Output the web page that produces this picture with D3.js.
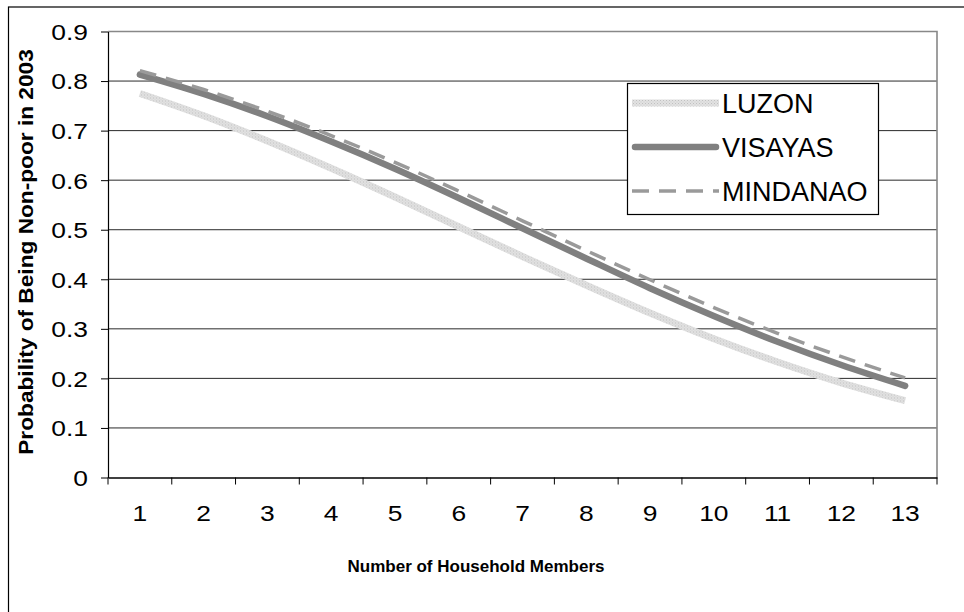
<!DOCTYPE html>
<html>
<head>
<meta charset="utf-8">
<script src="https://cdn.jsdelivr.net/npm/d3@7"></script>
<style>
  body { margin: 0; background: #fff; }
  svg text { font-family: "Liberation Sans", Arial, sans-serif; fill: #000; }
</style>
</head>
<body>
<svg width="964" height="612"></svg>
<script>
// household size categories
var members = ["1", "2", "3", "4", "5", "6", "7", "8", "9", "10", "11", "12", "13"];

// probability of being non-poor
var luzon    = [0.775, 0.730, 0.679, 0.624, 0.566, 0.506, 0.446, 0.388, 0.332, 0.280, 0.233, 0.191, 0.155];
var visayas  = [0.813, 0.774, 0.729, 0.678, 0.623, 0.564, 0.503, 0.442, 0.382, 0.326, 0.274, 0.227, 0.185];
var mindanao = [0.821, 0.783, 0.739, 0.690, 0.636, 0.578, 0.518, 0.458, 0.399, 0.343, 0.291, 0.244, 0.201];

var yTicks = [0, 0.1, 0.2, 0.3, 0.4, 0.5, 0.6, 0.7, 0.8, 0.9];
var yTickLabels = ["0", "0.1", "0.2", "0.3", "0.4", "0.5", "0.6", "0.7", "0.8", "0.9"];

var seriesNames = ["LUZON", "VISAYAS", "MINDANAO"];

var svg = d3.select("svg"),
    margin = {top: 31.5, right: 27, bottom: 134.5, left: 108},
    width = +svg.attr("width") - margin.left - margin.right,
    height = +svg.attr("height") - margin.top - margin.bottom;

var x = d3.scaleBand().domain(members).range([0, width]).paddingInner(0).paddingOuter(0),
    y = d3.scaleLinear().domain([0, 0.9]).range([height, 0]);

// texture for the light luzon line
var defs = svg.append("defs");
var pat = defs.append("pattern")
    .attr("id", "luzonTex")
    .attr("patternUnits", "userSpaceOnUse")
    .attr("width", 3).attr("height", 3);
pat.append("rect").attr("width", 3).attr("height", 3).attr("fill", "#e2e2e2");
pat.append("rect").attr("width", 1).attr("height", 1).attr("fill", "#c0c0c0");
pat.append("rect").attr("x", 1.5).attr("y", 1.5).attr("width", 1).attr("height", 1).attr("fill", "#cbcbcb");

// outer chart frame
svg.append("rect")
    .attr("x", 8.5).attr("y", 7)
    .attr("width", 1000).attr("height", 1000)
    .attr("fill", "none")
    .attr("stroke", "#000")
    .attr("stroke-width", 1.2);

var g = svg.append("g")
    .attr("transform", "translate(" + margin.left + "," + margin.top + ")");

// gridlines
g.append("g")
    .selectAll("line")
    .data(yTicks.slice(1))
    .enter().append("line")
    .attr("x1", 0).attr("x2", width)
    .attr("y1", function(d) { return y(d); })
    .attr("y2", function(d) { return y(d); })
    .attr("stroke", "#2a2a2a")
    .attr("stroke-width", 1);

// plot area border (top + right)
g.append("path")
    .attr("d", "M0," + y(0.9) + "H" + width + "V" + height)
    .attr("fill", "none")
    .attr("stroke", "#888")
    .attr("stroke-width", 1.6);

// y axis
var yAxis = d3.axisLeft(y)
    .tickValues(yTicks)
    .tickFormat(function(d, i) { return yTickLabels[i]; })
    .tickSizeInner(7).tickSizeOuter(0);

var yAxisG = g.append("g").attr("class", "axis axis--y").call(yAxis);
yAxisG.select(".domain").attr("stroke", "#000").attr("stroke-width", 1.2);
yAxisG.selectAll(".tick line").attr("stroke", "#000");
yAxisG.selectAll(".tick text")
    .attr("x", 0)
    .attr("dy", "0.36em")
    .attr("transform", "translate(-20,0) scale(1.2,1)")
    .style("font-size", "22px");

// x axis: labels in band centres, ticks on band edges
var xAxis = d3.axisBottom(x).tickSizeInner(0).tickSizeOuter(0);
var xAxisG = g.append("g")
    .attr("class", "axis axis--x")
    .attr("transform", "translate(0," + height + ")")
    .call(xAxis);
xAxisG.select(".domain").attr("stroke", "#000").attr("stroke-width", 1.4);
xAxisG.selectAll(".tick text")
    .attr("y", 0)
    .attr("dy", "0.71em")
    .attr("transform", "translate(0,28) scale(1.2,1)")
    .style("font-size", "22px");

var edges = members.map(function(m) { return x(m); }).concat([x.range()[1]]);
xAxisG.append("g")
    .selectAll("line")
    .data(edges)
    .enter().append("line")
    .attr("x1", function(d) { return d; })
    .attr("x2", function(d) { return d; })
    .attr("y1", 0).attr("y2", 7)
    .attr("stroke", "#000");

// axis titles
svg.append("text")
    .attr("transform", "translate(33,252) rotate(-90) scale(1.08,1)")
    .attr("text-anchor", "middle")
    .style("font-size", "21px")
    .style("font-weight", "bold")
    .text("Probability of Being Non-poor in 2003");

svg.append("text")
    .attr("x", 476).attr("y", 572)
    .attr("text-anchor", "middle")
    .style("font-size", "17px")
    .style("font-weight", "bold")
    .text("Number of Household Members");

// lines
var line = d3.line()
    .curve(d3.curveCatmullRom)
    .x(function(d, i) { return x(members[i]) + x.bandwidth() / 2; })
    .y(function(d) { return y(d); });

var styles = [
    {stroke: "url(#luzonTex)", width: 7, dash: null, cap: "butt"},
    {stroke: "#808080", width: 6.5, dash: null, cap: "round"},
    {stroke: "#9a9a9a", width: 3.5, dash: "17,10", cap: "butt"}
];
var allSeries = [luzon, visayas, mindanao];

allSeries.forEach(function(s, i) {
    g.append("path")
        .datum(s)
        .attr("d", line)
        .attr("fill", "none")
        .attr("stroke", styles[i].stroke)
        .attr("stroke-width", styles[i].width)
        .attr("stroke-linecap", styles[i].cap)
        .attr("stroke-dasharray", styles[i].dash);
});

// legend
var legend = svg.append("g").attr("transform", "translate(627,83)");
legend.append("rect")
    .attr("x", 0.5).attr("y", 0.5)
    .attr("width", 251).attr("height", 131)
    .attr("fill", "#fff")
    .attr("stroke", "#000")
    .attr("stroke-width", 1.2);

var item = legend.selectAll(".item")
    .data(seriesNames)
    .enter().append("g")
    .attr("class", "item")
    .attr("transform", function(d, i) { return "translate(0," + (20 + i * 44) + ")"; });

item.append("line")
    .attr("x1", function(d, i) { return i === 1 ? 8 : 5; })
    .attr("x2", function(d, i) { return i === 1 ? 89 : 92; })
    .attr("y1", 0).attr("y2", 0)
    .attr("stroke", function(d, i) { return styles[i].stroke; })
    .attr("stroke-width", function(d, i) { return styles[i].width; })
    .attr("stroke-linecap", function(d, i) { return styles[i].cap; })
    .attr("stroke-dasharray", function(d, i) { return styles[i].dash; });

item.append("text")
    .attr("x", 95).attr("y", 10)
    .style("font-size", "27px")
    .text(function(d) { return d; });
</script>
</body>
</html>
